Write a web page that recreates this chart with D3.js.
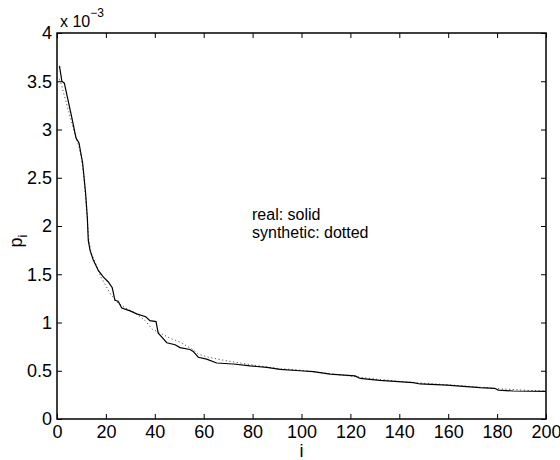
<!DOCTYPE html>
<html>
<head>
<meta charset="utf-8">
<script src="https://cdn.jsdelivr.net/npm/d3@7"></script>
<style>
  body { margin: 0; background: #fff; }
  svg { font-family: Helvetica, Arial, 'Liberation Sans', sans-serif; }
</style>
</head>
<body>
<div id="chart"></div>
<script>
// rank i and probability p_i (in units of 1e-3)
const realI = [1, 2, 3, 6, 7.8, 9, 10.5, 11.7, 12.4, 12.8, 13.5, 14.8, 16.9, 19, 21, 22.6, 23.7, 25, 26.5, 29.9, 32.6, 36.3, 38, 40.5, 41.4, 42.8, 44.9, 48.3, 50.3, 54.4, 55.7, 57.8, 61.2, 65.3, 72.1, 79, 85.8, 91.2, 99.4, 104.8, 111.7, 121.9, 124, 132, 145.7, 148.5, 159.4, 173, 179, 180.5, 186.6, 200];
const realP = [3.66, 3.50, 3.48, 3.13, 2.91, 2.86, 2.65, 2.34, 2.09, 1.85, 1.75, 1.65, 1.54, 1.47, 1.42, 1.36, 1.23, 1.22, 1.15, 1.12, 1.09, 1.06, 1.02, 1.01, 0.89, 0.85, 0.79, 0.77, 0.74, 0.72, 0.70, 0.64, 0.62, 0.58, 0.57, 0.55, 0.535, 0.515, 0.50, 0.49, 0.466, 0.446, 0.42, 0.40, 0.376, 0.363, 0.352, 0.325, 0.318, 0.30, 0.29, 0.287];

const synthI = [1, 2, 3, 5, 7, 9, 10, 11, 12, 13, 14, 16, 18, 20, 22, 25, 28, 32, 36, 39, 43, 46, 50, 55, 58, 62, 70, 80, 90, 100, 110, 120, 130, 140, 150, 160, 170, 180, 190, 200];
const synthP = [3.52, 3.45, 3.35, 3.17, 2.98, 2.82, 2.70, 2.50, 2.20, 1.85, 1.72, 1.60, 1.47, 1.38, 1.29, 1.20, 1.15, 1.10, 1.02, 0.93, 0.88, 0.84, 0.80, 0.73, 0.67, 0.64, 0.60, 0.56, 0.525, 0.505, 0.475, 0.445, 0.415, 0.39, 0.37, 0.355, 0.335, 0.315, 0.30, 0.29];

const xTicks = [0, 20, 40, 60, 80, 100, 120, 140, 160, 180, 200];
const yTicks = [0, 0.5, 1, 1.5, 2, 2.5, 3, 3.5, 4];

const width = 560, height = 460;
const margin = { top: 33, right: 14, bottom: 41, left: 57 };
const plotW = width - margin.left - margin.right;
const plotH = height - margin.top - margin.bottom;

const svg = d3.select('#chart').append('svg')
  .attr('width', width)
  .attr('height', height);

const g = svg.append('g')
  .attr('transform', `translate(${margin.left},${margin.top})`);

const x = d3.scaleLinear().domain([0, 200]).range([0, plotW]);
const y = d3.scaleLinear().domain([0, 4]).range([plotH, 0]);

// lines
const line = d3.line().x(d => x(d[0])).y(d => y(d[1]));

g.append('path')
  .datum(synthI.map((v, k) => [v, synthP[k]]))
  .attr('fill', 'none')
  .attr('stroke', '#555')
  .attr('stroke-width', 1)
  .attr('stroke-dasharray', '1.2,2.5')
  .attr('d', line);

g.append('path')
  .datum(realI.map((v, k) => [v, realP[k]]))
  .attr('fill', 'none')
  .attr('stroke', '#000')
  .attr('stroke-width', 1.2)
  .attr('d', line);

// axes, ticks inward on all four sides (box)
const tickLen = 5;
const styleAxis = sel => {
  sel.select('.domain').remove();
  sel.selectAll('line').attr('stroke', '#000');
  sel.selectAll('text').attr('fill', '#000').style('font-size', '18px');
};

g.append('g')
  .attr('transform', `translate(0,${plotH})`)
  .call(d3.axisBottom(x).tickValues(xTicks).tickSize(-tickLen).tickPadding(6).tickFormat(d3.format('d')))
  .call(styleAxis);

g.append('g')
  .call(d3.axisTop(x).tickValues(xTicks).tickSize(-tickLen).tickFormat(''))
  .call(styleAxis);

g.append('g')
  .call(d3.axisLeft(y).tickValues(yTicks).tickSize(-tickLen).tickPadding(5).tickFormat(d => String(d)))
  .call(styleAxis);

g.append('g')
  .attr('transform', `translate(${plotW},0)`)
  .call(d3.axisRight(y).tickValues(yTicks).tickSize(-tickLen).tickFormat(''))
  .call(styleAxis);

g.append('rect')
  .attr('width', plotW)
  .attr('height', plotH)
  .attr('fill', 'none')
  .attr('stroke', '#000')
  .attr('stroke-width', 1.5);

// exponent label
const expo = svg.append('text')
  .attr('x', margin.left + 3)
  .attr('y', 27)
  .style('font-size', '16px');
expo.append('tspan').text('x 10');
expo.append('tspan').attr('dy', -10).style('font-size', '12px').text('\u22123');

// axis labels
svg.append('text')
  .attr('x', margin.left + x(100))
  .attr('y', 457)
  .attr('text-anchor', 'middle')
  .style('font-size', '18px')
  .text('i');

const yl = svg.append('text')
  .attr('transform', `translate(22,${margin.top + plotH / 2 + 15}) rotate(-90)`)
  .attr('text-anchor', 'middle')
  .style('font-size', '18px');
yl.append('tspan').text('p');
yl.append('tspan').attr('dy', 5).style('font-size', '13px').text('i');

// annotation
svg.append('text')
  .attr('x', 252)
  .attr('y', 220)
  .style('font-size', '16px')
  .text('real: solid');
svg.append('text')
  .attr('x', 252)
  .attr('y', 238)
  .style('font-size', '16px')
  .text('synthetic: dotted');
</script>
</body>
</html>
